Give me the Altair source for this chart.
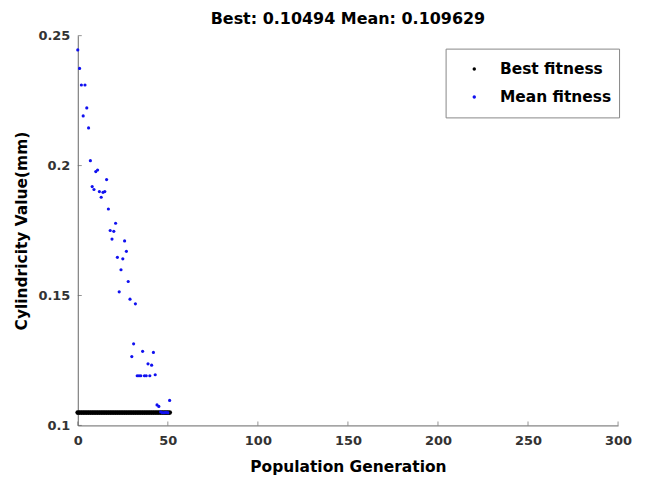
import altair as alt
import pandas as pd

# ---- data ----
generations = list(range(52))
mean_fitness = [
    0.2445, 0.2374, 0.2310, 0.2191, 0.2310, 0.2222, 0.2145, 0.2019, 0.1919, 0.1908,
    0.1977, 0.1983, 0.1900, 0.1878, 0.1897, 0.1900, 0.1946, 0.1833, 0.1750, 0.1717,
    0.1747, 0.1778, 0.1647, 0.1514, 0.1599, 0.1641, 0.1710, 0.1670, 0.1554, 0.1486,
    0.1265, 0.1314, 0.1468, 0.1191, 0.1191, 0.1191, 0.1285, 0.1191, 0.1191, 0.1237,
    0.1191, 0.1232, 0.1281, 0.1195, 0.1079, 0.1073, 0.1052, 0.1049, 0.1049, 0.1050,
    0.1049, 0.109629,
]
best_fitness = [0.10494] * 52
x_ticks = [0, 50, 100, 150, 200, 250, 300]
y_ticks = [0.1, 0.15, 0.2, 0.25]
series_names = ["Best fitness", "Mean fitness"]
series_colors = ["#000000", "#1010f0"]

df = pd.DataFrame(
    {
        "gen": generations + generations,
        "value": best_fitness + mean_fitness,
        "series": ["Best fitness"] * len(generations) + ["Mean fitness"] * len(generations),
        "order": [0] * len(generations) + [1] * len(generations),
    }
)
xt = pd.DataFrame({"t": x_ticks})
yt = pd.DataFrame({"t": y_ticks})

W, H = 542, 391
FONT = "DejaVu Sans"

xscale = alt.Scale(domain=[0, 300], nice=False)
yscale = alt.Scale(domain=[0.1, 0.25], nice=False, zero=False)

points = (
    alt.Chart(df)
    .mark_circle(opacity=1)
    .encode(
        x=alt.X(
            "gen:Q",
            scale=xscale,
            axis=alt.Axis(values=x_ticks, title="Population Generation", labelFlush=False,
                          labelPadding=9, titlePadding=12),
        ),
        y=alt.Y(
            "value:Q",
            scale=yscale,
            axis=alt.Axis(values=y_ticks, format="~g", title="Cylindricity Value(mm)", labelFlush=False,
                          labelPadding=8, titlePadding=8),
        ),
        color=alt.Color(
            "series:N",
            scale=alt.Scale(domain=series_names, range=series_colors),
            legend=alt.Legend(
                title=None,
                orient="none",
                legendX=369,
                legendY=13,
                padding=7,
                strokeColor="#888888",
                fillColor="white",
                labelFont=FONT,
                labelFontWeight="bold",
                labelFontSize=15.5,
                labelColor="black",
                labelOffset=18,
                symbolOffset=14,
                symbolType="circle",
                symbolSize=12,
                symbolStrokeWidth=0,
                clipHeight=27,
                rowPadding=1,
            ),
        ),
        size=alt.condition(alt.datum.series == "Best fitness", alt.value(24), alt.value(10)),
        order=alt.Order("order:Q"),
    )
)

xticks = (
    alt.Chart(xt)
    .mark_tick(color="#666666", thickness=1, size=4, orient="vertical")
    .encode(x=alt.X("t:Q", scale=xscale), y=alt.value(H - 2))
)
yticks = (
    alt.Chart(yt)
    .mark_tick(color="#666666", thickness=1, size=4, orient="horizontal")
    .encode(y=alt.Y("t:Q", scale=yscale), x=alt.value(2))
)

chart = (
    alt.layer(points, xticks, yticks)
    .properties(
        width=W,
        height=H,
        title=alt.TitleParams(
            "Best: 0.10494 Mean: 0.109629",
            font=FONT,
            fontSize=16,
            fontWeight="bold",
            color="black",
            anchor="middle",
            frame="group",
            offset=3,
        ),
        autosize=alt.AutoSizeParams(type="none"),
        padding={"left": 70, "top": 27, "right": 20, "bottom": 50},
        background="white",
    )
    .configure_view(stroke=None)
    .configure_axis(
        grid=False,
        ticks=False,
        domainColor="#666666",
        domainWidth=1,
        labelFont=FONT,
        labelFontWeight="bold",
        labelFontSize=13,
        labelColor="#333333",
        titleFont=FONT,
        titleFontWeight="bold",
        titleFontSize=15.5,
        titleColor="black",
    )
)

chart.save("out.html", embed_options={"renderer": "svg", "actions": False})
